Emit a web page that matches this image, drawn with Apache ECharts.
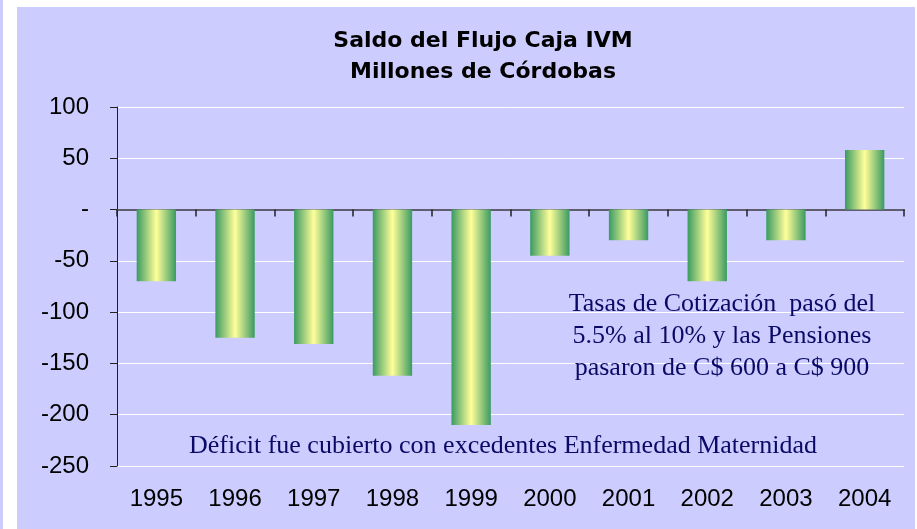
<!DOCTYPE html>
<html>
<head>
<meta charset="utf-8">
<script src="https://cdn.jsdelivr.net/npm/echarts@6/dist/echarts.min.js"></script>
<style>
  html, body { margin: 0; padding: 0; background: #fff; }
  #chart { width: 917px; height: 529px; }
</style>
</head>
<body>
<div id="chart"></div>
<script>
// datos del gráfico
const years = ['1995', '1996', '1997', '1998', '1999', '2000', '2001', '2002', '2003', '2004'];
const saldo = [-70, -125, -131, -162, -210, -45, -30, -70, -30, 58];
const yMin = -250;
const yMax = 100;
const yStep = 50;

const notaTasas = ['Tasas de Cotización  pasó del', '5.5% al 10% y las Pensiones', 'pasaron de C$ 600 a C$ 900'];
const notaDeficit = 'Déficit fue cubierto con excedentes Enfermedad Maternidad';

const lavanda = '#CCCCFF';
const azulNota = '#0A0A66';
const fuenteNota = '26px "Liberation Serif", "Times New Roman", serif';

let chart = echarts.init(document.getElementById('chart'));

// degradado verde - amarillo - verde de las barras
const barColor = new echarts.graphic.LinearGradient(0, 0, 1, 0, [
  { offset: 0, color: '#3A9A62' },
  { offset: 0.5, color: '#FFFF99' },
  { offset: 1, color: '#3A9A62' },
]);

chart.setOption({
  animation: false,
  backgroundColor: '#FFFFFF',
  graphic: [
    // franja izquierda y fondo del gráfico
    { type: 'rect', left: 0, top: 0, z: -10, shape: { width: 3, height: 529 }, style: { fill: lavanda } },
    { type: 'rect', left: 17, top: 7, z: -10, shape: { width: 898, height: 522 }, style: { fill: lavanda } },
    {
      type: 'text', x: 722, y: 304, z: 10,
      style: { text: notaTasas[0], font: fuenteNota, fill: azulNota, textAlign: 'center', textVerticalAlign: 'middle' },
    },
    {
      type: 'text', x: 722, y: 336, z: 10,
      style: { text: notaTasas[1], font: fuenteNota, fill: azulNota, textAlign: 'center', textVerticalAlign: 'middle' },
    },
    {
      type: 'text', x: 722, y: 368, z: 10,
      style: { text: notaTasas[2], font: fuenteNota, fill: azulNota, textAlign: 'center', textVerticalAlign: 'middle' },
    },
    {
      type: 'text', x: 503, y: 446, z: 10,
      style: { text: notaDeficit, font: fuenteNota, fill: azulNota, textAlign: 'center', textVerticalAlign: 'middle' },
    },
  ],
  title: {
    text: 'Saldo del Flujo Caja IVM\nMillones de Córdobas',
    left: 478,
    top: 21,
    textAlign: 'center',
    textStyle: {
      fontFamily: 'DejaVu Sans, Arial, sans-serif',
      fontWeight: 'bold',
      fontSize: 22,
      lineHeight: 31,
      color: '#000',
    },
  },
  grid: { left: 117, right: 13, top: 107, bottom: 63 },
  xAxis: [
    {
      // eje en cero con marcas
      type: 'category',
      data: years,
      axisLine: { onZero: true, lineStyle: { color: '#5E5E70', width: 2 } },
      axisTick: { show: true, length: 7, lineStyle: { color: '#222', width: 1.5 } },
      axisLabel: { show: false },
      splitLine: { show: false },
    },
    {
      // etiquetas abajo
      type: 'category',
      data: years,
      position: 'bottom',
      axisLine: { show: false, onZero: false },
      axisTick: { show: false },
      axisLabel: {
        margin: 21,
        color: '#000',
        fontSize: 24,
        fontFamily: 'Liberation Sans, Arial, sans-serif',
      },
    },
  ],
  yAxis: {
    type: 'value',
    min: yMin,
    max: yMax,
    interval: yStep,
    axisLine: { show: true, lineStyle: { color: '#222', width: 1 } },
    axisTick: { show: true, length: 7, lineStyle: { color: '#222' } },
    axisLabel: {
      margin: 28,
      color: '#000',
      fontSize: 24,
      fontFamily: 'Liberation Sans, Arial, sans-serif',
      formatter: (v) => (v === 0 ? '-' : v),
    },
    splitLine: { show: true, lineStyle: { color: '#FFFFFF', width: 1 } },
  },
  series: [
    {
      type: 'bar',
      xAxisIndex: 0,
      data: saldo,
      barWidth: '50%',
      itemStyle: { color: barColor },
    },
  ],
});
</script>
</body>
</html>
